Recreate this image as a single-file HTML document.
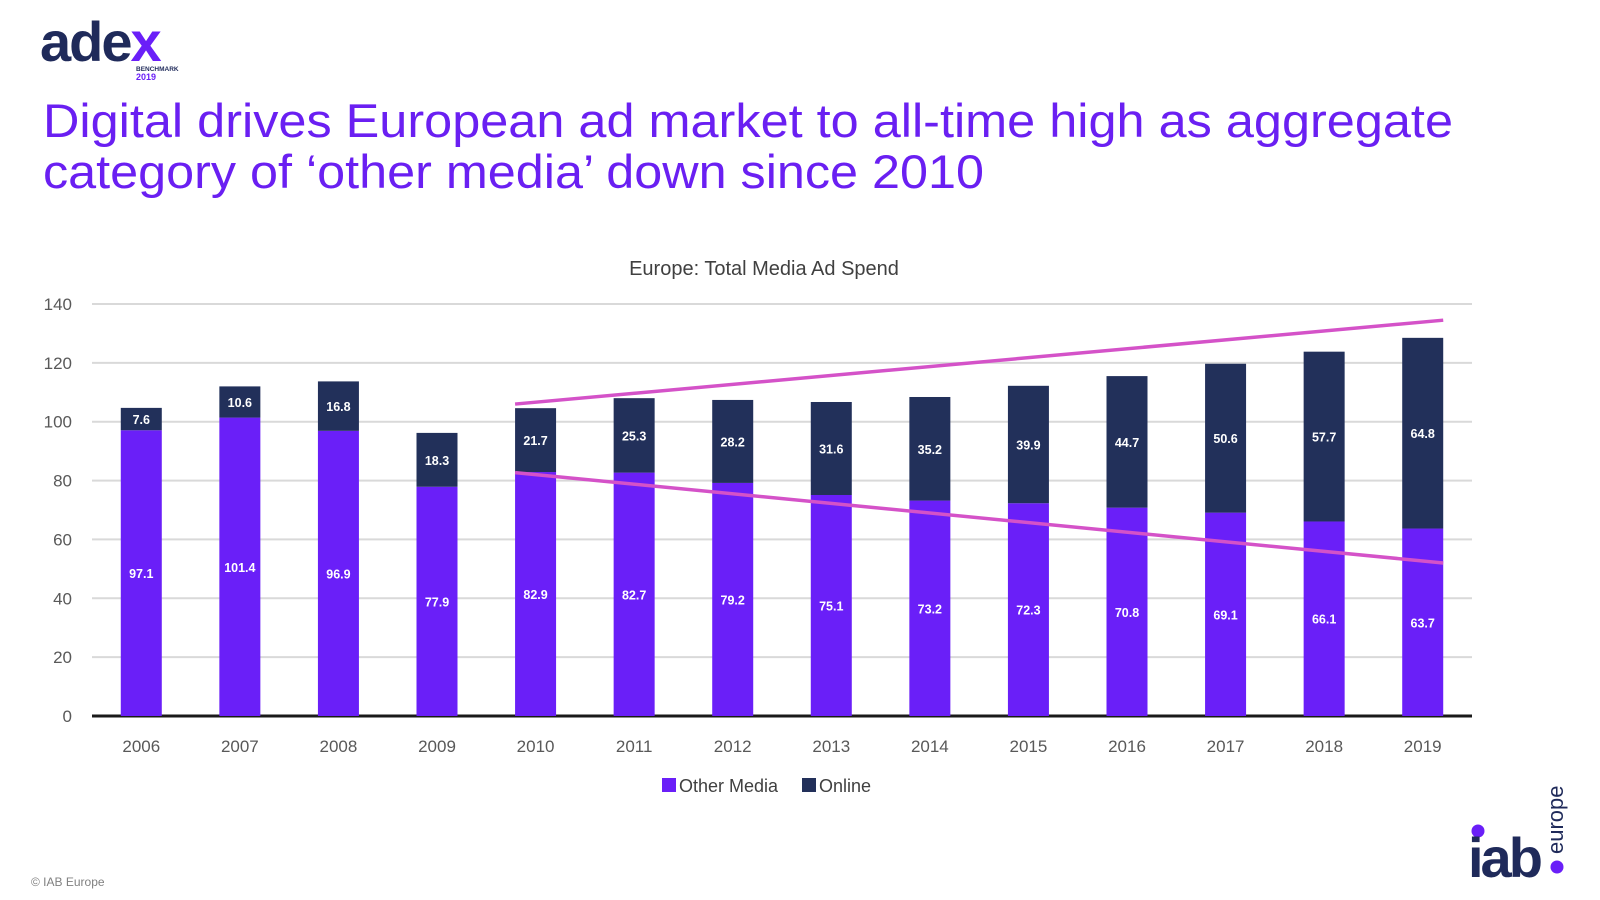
<!DOCTYPE html>
<html><head><meta charset="utf-8"><style>
html,body{margin:0;padding:0;background:#fff;}
svg{display:block;font-family:"Liberation Sans",sans-serif;}
</style></head><body>
<svg id="chart" width="1600" height="900" viewBox="0 0 1600 900">
<g>
  <text x="40" y="61" font-size="56" font-weight="bold" fill="#1f2a5a" letter-spacing="-2">ade<tspan fill="#6a1ff8">x</tspan></text>
  <text x="136" y="71" font-size="6.5" font-weight="bold" fill="#1f2a5a">BENCHMARK</text>
  <text x="136" y="80" font-size="9" font-weight="bold" fill="#6a1ff8">2019</text>
</g>
<text x="43" y="137" font-size="47" fill="#6a1ff2" textLength="1410" lengthAdjust="spacingAndGlyphs">Digital drives European ad market to all-time high as aggregate</text>
<text x="43" y="188" font-size="47" fill="#6a1ff2" textLength="941" lengthAdjust="spacingAndGlyphs">category of ‘other media’ down since 2010</text>
<text x="764" y="275" font-size="20" fill="#404040" text-anchor="middle">Europe: Total Media Ad Spend</text>
<g id="grid"></g><g id="bars"></g><g id="trends"></g><g id="labels"></g>
<g>
  <rect x="662" y="778" width="14" height="14" fill="#6a1ff8"></rect>
  <text x="679" y="792" font-size="18" fill="#404040">Other Media</text>
  <rect x="802" y="778" width="14" height="14" fill="#22305a"></rect>
  <text x="819" y="792" font-size="18" fill="#404040">Online</text>
</g>
<text x="31" y="886" font-size="12" fill="#808080">© IAB Europe</text>
<g>
  <circle cx="1478" cy="831" r="6.5" fill="#6a1ff8"></circle>
  <text x="1468" y="877" font-size="56" font-weight="bold" fill="#1f2a5a" letter-spacing="-3">iab</text>
  <text transform="translate(1563,854) rotate(-90)" font-size="22" fill="#1f2a5a">europe</text>
  <circle cx="1557" cy="867" r="6.5" fill="#6a1ff8"></circle>
</g>
</svg>
<script>
const years=["2006","2007","2008","2009","2010","2011","2012","2013","2014","2015","2016","2017","2018","2019"];
const otherMedia=[97.1,101.4,96.9,77.9,82.9,82.7,79.2,75.1,73.2,72.3,70.8,69.1,66.1,63.7];
const online=[7.6,10.6,16.8,18.3,21.7,25.3,28.2,31.6,35.2,39.9,44.7,50.6,57.7,64.8];
const yTicks=[0,20,40,60,80,100,120,140];
const upperTrend=[106,134.5];
const lowerTrend=[82.7,52];
const NS="http://www.w3.org/2000/svg";
const L=92,R=1472,B=716,T=304,YMAX=140;
const band=(R-L)/years.length, bw=41;
function y(v){return B-(v/YMAX)*(B-T);}
function xc(i){return L+band*(i+0.5);}
function mk(t,a,p){const e=document.createElementNS(NS,t);for(const k in a)e.setAttribute(k,a[k]);p.appendChild(e);return e;}
const grid=document.getElementById('grid'),bars=document.getElementById('bars'),lab=document.getElementById('labels'),tr=document.getElementById('trends');
yTicks.forEach(v=>{
  if(v>0){const g=mk('line',{x1:L,x2:R,y1:y(v),y2:y(v),stroke:'#d9d9d9','stroke-width':2},grid);
  
  }
  const t=mk('text',{x:72,y:y(v)+6,'font-size':17,fill:'#595959','text-anchor':'end'},grid);t.textContent=v;
  
  
});
years.forEach((yr,i)=>{
  const x=xc(i)-bw/2;
  const a=mk('rect',{x:x,y:y(otherMedia[i]),width:bw,height:B-y(otherMedia[i]),fill:'#6a1ff8'},bars);
  
  
  const top=otherMedia[i]+online[i];
  const b=mk('rect',{x:x,y:y(top),width:bw,height:y(otherMedia[i])-y(top),fill:'#22305a'},bars);
  
  
  const l1=mk('text',{x:xc(i),y:y(otherMedia[i]/2)+5,'font-size':12.5,'font-weight':'bold',fill:'#fff','text-anchor':'middle'},lab);l1.textContent=otherMedia[i].toFixed(1);
  
  
  const l2=mk('text',{x:xc(i),y:y(otherMedia[i]+online[i]/2)+5,'font-size':12.5,'font-weight':'bold',fill:'#fff','text-anchor':'middle'},lab);l2.textContent=online[i].toFixed(1);
  
  
  const xl=mk('text',{x:xc(i),y:752,'font-size':17,fill:'#595959','text-anchor':'middle'},lab);xl.textContent=yr;
  
  
});
const ax=mk('line',{x1:L,x2:R,y1:B,y2:B,stroke:'#1a1a1a','stroke-width':3},grid);


const x0=xc(4)-bw/2, x1=xc(13)+bw/2;
[[upperTrend,'trendline-total'],[lowerTrend,'trendline-other-media']].forEach(([d,n])=>{
  const ln=mk('line',{x1:x0,x2:x1,y1:y(d[0]),y2:y(d[1]),stroke:'#d452c8','stroke-width':3.5},tr);
  
  
});
</script>
</body></html>
